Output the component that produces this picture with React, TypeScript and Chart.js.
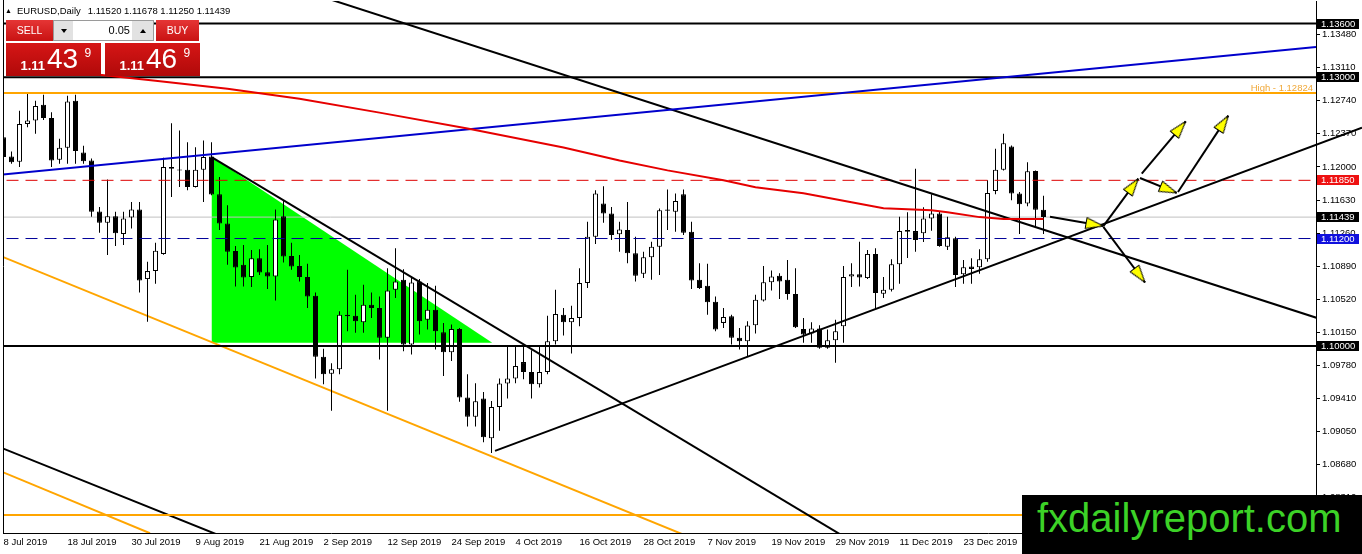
import React, { useEffect, useRef } from 'react';
import { Chart, registerables } from 'chart.js';

Chart.register(...registerables);

const FONT = '"Liberation Sans", Arial, Helvetica, sans-serif';

// ---------------- data ----------------
const opens = [
  1.12331, 1.12117, 1.12058, 1.12480, 1.12517, 1.12694, 1.12547, 1.12080, 1.12213, 1.12739,
  1.12161, 1.12072, 1.11502, 1.11376, 1.11450, 1.11250, 1.11436, 1.11524, 1.10747, 1.10836,
  1.11028, 1.11998, 1.11969, 1.11969, 1.11776, 1.11969, 1.12117, 1.11694, 1.11369, 1.11061,
  1.10906, 1.10769, 1.10980, 1.10824, 1.10776, 1.11450, 1.11006, 1.10894, 1.10769, 1.10561,
  1.09880, 1.09691, 1.09739, 1.10350, 1.10339, 1.10264, 1.10461, 1.10424, 1.10091, 1.10628,
  1.10739, 1.10017, 1.10720, 1.10294, 1.10406, 1.10153, 1.09931, 1.10191, 1.09424, 1.09209,
  1.09413, 1.08969, 1.09320, 1.09580, 1.09636, 1.09820, 1.09709, 1.09572, 1.09709, 1.10053,
  1.10350, 1.10264, 1.10313, 1.10702, 1.11220, 1.11591, 1.11480, 1.11247, 1.11294, 1.11036,
  1.10806, 1.10991, 1.11109, 1.11524, 1.11498, 1.11694, 1.11276, 1.10739, 1.10672, 1.10494,
  1.10258, 1.10331, 1.10091, 1.10053, 1.10231, 1.10509, 1.10713, 1.10783, 1.10739, 1.10580,
  1.10191, 1.10139, 1.10194, 1.09980, 1.10064, 1.10220, 1.10776, 1.10802, 1.10758, 1.11028,
  1.10583, 1.10628, 1.10913, 1.11294, 1.11283, 1.11258, 1.11424, 1.11480, 1.11109, 1.11202,
  1.10802, 1.10887, 1.10880, 1.10969, 1.11731, 1.11969, 1.12228, 1.11702, 1.11591, 1.11954,
  1.11520,
];
const highs = [
  1.12406, 1.12172, 1.12628, 1.12824, 1.12739, 1.12806, 1.12609, 1.12313, 1.12794, 1.12806,
  1.12236, 1.12094, 1.11553, 1.11858, 1.11498, 1.11498, 1.11609, 1.11609, 1.10942, 1.11153,
  1.12102, 1.12487, 1.12406, 1.12276, 1.12220, 1.12294, 1.12276, 1.11887, 1.11572, 1.11117,
  1.11128, 1.11072, 1.11080, 1.11128, 1.11524, 1.11628, 1.11153, 1.11017, 1.10917, 1.10598,
  1.09969, 1.09806, 1.10387, 1.10850, 1.10572, 1.10683, 1.10598, 1.10553, 1.10869, 1.11091,
  1.10858, 1.10776, 1.10747, 1.10702, 1.10672, 1.10258, 1.10239, 1.10202, 1.09683, 1.09583,
  1.09487, 1.09387, 1.09636, 1.09998, 1.09998, 1.10006, 1.09953, 1.10006, 1.10339, 1.10628,
  1.10424, 1.10450, 1.10869, 1.11387, 1.11739, 1.11783, 1.11553, 1.11387, 1.11609, 1.11220,
  1.11053, 1.11164, 1.11536, 1.11747, 1.11702, 1.11747, 1.11387, 1.10924, 1.10917, 1.10553,
  1.10424, 1.10350, 1.10202, 1.10276, 1.10572, 1.10894, 1.10842, 1.10813, 1.10961, 1.10869,
  1.10313, 1.10264, 1.10231, 1.10183, 1.10294, 1.10894, 1.10924, 1.11164, 1.11072, 1.11091,
  1.10769, 1.10969, 1.11442, 1.11494, 1.11980, 1.11550, 1.11694, 1.11498, 1.11442, 1.11220,
  1.10961, 1.10980, 1.11080, 1.11850, 1.12202, 1.12369, 1.12240, 1.11720, 1.12053, 1.11961,
  1.11678,
];
const lows = [
  1.12050, 1.12036, 1.11998, 1.12442, 1.12369, 1.12524, 1.11998, 1.12036, 1.12036, 1.12036,
  1.12036, 1.11442, 1.11264, 1.11017, 1.11117, 1.11128, 1.11313, 1.10598, 1.10272, 1.10694,
  1.11020, 1.11664, 1.11776, 1.11739, 1.11770, 1.11609, 1.11683, 1.11294, 1.10906, 1.10664,
  1.10664, 1.10658, 1.10794, 1.10636, 1.10509, 1.10931, 1.10850, 1.10720, 1.10424, 1.09636,
  1.09572, 1.09276, 1.09683, 1.10164, 1.10147, 1.10147, 1.10313, 1.09850, 1.09276, 1.10536,
  1.09942, 1.09906, 1.10128, 1.10183, 1.09961, 1.09664, 1.09831, 1.09376, 1.09102, 1.09102,
  1.08924, 1.08806, 1.09053, 1.09413, 1.09583, 1.09628, 1.09413, 1.09536, 1.09683, 1.10017,
  1.10117, 1.09917, 1.10220, 1.10647, 1.11139, 1.11376, 1.11183, 1.11053, 1.10924, 1.10720,
  1.10758, 1.10739, 1.10794, 1.11294, 1.11276, 1.11239, 1.10636, 1.10636, 1.10350, 1.10164,
  1.10202, 1.10017, 1.09961, 1.09887, 1.10139, 1.10498, 1.10620, 1.10524, 1.10517, 1.10202,
  1.10036, 1.10036, 1.09969, 1.09970, 1.09813, 1.10036, 1.10658, 1.10664, 1.10747, 1.10413,
  1.10536, 1.10609, 1.10694, 1.10983, 1.11053, 1.11161, 1.11287, 1.11109, 1.11072, 1.10658,
  1.10694, 1.10694, 1.10806, 1.10942, 1.11694, 1.11961, 1.11628, 1.11250, 1.11561, 1.11331,
  1.11250,
];
const closes = [
  1.12109, 1.12053, 1.12480, 1.12517, 1.12680, 1.12547, 1.12072, 1.12213, 1.12731, 1.12176,
  1.12064, 1.11498, 1.11376, 1.11450, 1.11258, 1.11424, 1.11524, 1.10731, 1.10836, 1.11064,
  1.11998, 1.11980, 1.11960, 1.11776, 1.11969, 1.12109, 1.11691, 1.11369, 1.11053, 1.10876,
  1.10764, 1.10980, 1.10820, 1.10776, 1.11413, 1.10998, 1.10887, 1.10769, 1.10553, 1.09880,
  1.09683, 1.09739, 1.10350, 1.10331, 1.10276, 1.10461, 1.10424, 1.10091, 1.10620, 1.10720,
  1.10017, 1.10709, 1.10276, 1.10406, 1.10164, 1.09931, 1.10191, 1.09424, 1.09209, 1.09383,
  1.08980, 1.09320, 1.09580, 1.09636, 1.09776, 1.09709, 1.09572, 1.09709, 1.10053, 1.10358,
  1.10264, 1.10313, 1.10702, 1.11220, 1.11702, 1.11480, 1.11239, 1.11302, 1.11036, 1.10783,
  1.10991, 1.11109, 1.11517, 1.11509, 1.11620, 1.11264, 1.10731, 1.10647, 1.10487, 1.10183,
  1.10324, 1.10091, 1.10053, 1.10228, 1.10517, 1.10713, 1.10776, 1.10720, 1.10580, 1.10209,
  1.10128, 1.10194, 1.09980, 1.10064, 1.10164, 1.10769, 1.10802, 1.10764, 1.11028, 1.10591,
  1.10628, 1.10913, 1.11283, 1.11276, 1.11183, 1.11424, 1.11480, 1.11117, 1.11213, 1.10794,
  1.10880, 1.10861, 1.10969, 1.11709, 1.11969, 1.12264, 1.11702, 1.11583, 1.11950, 1.11520,
  1.11439,
];

const dateLabels = [
  '8 Jul 2019', '18 Jul 2019', '30 Jul 2019', '9 Aug 2019', '21 Aug 2019', '2 Sep 2019',
  '12 Sep 2019', '24 Sep 2019', '4 Oct 2019', '16 Oct 2019', '28 Oct 2019', '7 Nov 2019',
  '19 Nov 2019', '29 Nov 2019', '11 Dec 2019', '23 Dec 2019',
];
const dateLabelBars = [0, 8, 16, 24, 32, 40, 48, 56, 64, 72, 80, 88, 96, 104, 112, 120];

const priceTicks = [
  1.1348, 1.1311, 1.1274, 1.1237, 1.12, 1.1163, 1.1126, 1.1089, 1.1052, 1.1015,
  1.0978, 1.0941, 1.0905, 1.0868, 1.0831,
];

const maBars = [6, 12, 19, 28, 37, 47, 58, 70, 77, 83, 90, 94, 100, 106, 110, 116, 118, 122, 125, 130];
const maValues = [
  1.13083, 1.13028, 1.12961, 1.12872, 1.12761, 1.12606, 1.12428, 1.12217, 1.12072, 1.11961,
  1.11850, 1.11772, 1.11706, 1.11606, 1.11539, 1.11517, 1.11494, 1.11439, 1.11417, 1.11417,
];

const level1360 = 1.136;
const level1300 = 1.13;
const highLevel = 1.12824;
const resistLevel = 1.1185;
const bidPrice = 1.11439;
const askPrice = 1.11469;
const supportLevel = 1.112;
const level1000 = 1.1;
const lowOrangeLevel = 1.08113;
const lotSize = '0.05';

const trendL1 = [[37.69, 1.13961], [168, 1.10203]];
const trendL2 = [[26.06, 1.12106], [106, 1.07821]];
const trendL3 = [[61.44, 1.08828], [169.81, 1.12439]];
const trendBlue = [[-1.69, 1.11902], [164.06, 1.13339]];
const channelBlack = [[-1.69, 1.08914], [27.06, 1.07882]];
const channelOrangeA = [[-1.69, 1.0865], [18.31, 1.07909]];
const channelOrangeB = [[-1.69, 1.11053], [85.81, 1.07864]];
const greenWedge = [[26, 1.12117], [61.09, 1.10036]];
const wedgeBase = 1.10036;

const arrowPaths = [
  [[130.81, 1.11442], [137.48, 1.11339]],
  [[137.48, 1.11339], [141.85, 1.11869]],
  [[142.06, 1.11876], [146.65, 1.11709]],
  [[146.81, 1.1172], [153.1, 1.12572]],
  [[142.28, 1.11924], [147.78, 1.12509]],
  [[137.48, 1.11331], [142.69, 1.10709]],
];

// scale ranges (bar index / price)
const X_MIN = -0.0625;
const X_MAX = 164.0625;
const Y_MAX = 1.138524;
const Y_MIN = 1.079116;

const overlayPlugin = {
  id: 'mtOverlay',
  afterDraw(chart: any) {
    const { ctx, chartArea: a, scales } = chart;
    const y = scales.y;
    ctx.save();
    ctx.strokeStyle = '#000';
    ctx.lineWidth = 1;
    ctx.beginPath();
    ctx.moveTo(a.left + 0.5, 0);
    ctx.lineTo(a.left + 0.5, a.bottom);
    ctx.stroke();

    ctx.font = `9.5px ${FONT}`;
    ctx.textAlign = 'right';
    ctx.textBaseline = 'alphabetic';
    ctx.fillStyle = '#f0a838';
    ctx.fillText('High - ' + highLevel.toFixed(5), a.right - 3, y.getPixelForValue(highLevel) - 2);

    const tags: [number, string][] = [
      [level1360, '#000000'],
      [level1300, '#000000'],
      [resistLevel, '#ee1111'],
      [bidPrice, '#000000'],
      [supportLevel, '#1010dd'],
      [level1000, '#000000'],
    ];
    ctx.textAlign = 'left';
    ctx.textBaseline = 'middle';
    tags.forEach(([v, color]) => {
      const py = y.getPixelForValue(v);
      ctx.fillStyle = color;
      ctx.fillRect(a.right + 1, Math.round(py) - 5, 42, 10);
      ctx.fillStyle = '#fff';
      ctx.fillText(v.toFixed(5), a.right + 5, Math.round(py) + 0.5);
    });
    ctx.restore();
  },
};

export default function App() {
  const ref = useRef<HTMLCanvasElement>(null);

  useEffect(() => {
    document.body.style.margin = '0';
    const canvas = ref.current;
    if (!canvas) return;

    const head = document.createElement('canvas');
    head.width = 12;
    head.height = 36;
    const g = head.getContext('2d');
    if (g) {
      g.beginPath();
      g.moveTo(6, 18);
      g.lineTo(11.5, 35.5);
      g.lineTo(0.5, 35.5);
      g.closePath();
      g.fillStyle = '#ffff00';
      g.fill();
      g.lineWidth = 1;
      g.strokeStyle = '#000';
      g.stroke();
    }

    const seg = (pts: number[][], color: string, width: number, order: number, extra: any = {}) => ({
      type: 'line',
      data: pts.map(([x, y]) => ({ x, y })),
      borderColor: color,
      borderWidth: width,
      pointRadius: 0,
      pointHoverRadius: 0,
      pointBorderWidth: 0,
      pointHitRadius: 0,
      fill: false,
      tension: 0,
      order,
      ...extra,
    });
    const hline = (v: number, color: string, width: number, order: number, dash?: number[]) =>
      seg([[-2, v], [170, v]], color, width, order, dash ? { borderDash: dash } : {});

    const arrowRotation = (c: any) => {
      const xs = c.chart.scales.x;
      const ys = c.chart.scales.y;
      const d = c.dataset && c.dataset.data;
      if (!xs || !ys || !d || d.length < 2) return 0;
      const dx = xs.getPixelForValue(d[1].x) - xs.getPixelForValue(d[0].x);
      const dy = ys.getPixelForValue(d[1].y) - ys.getPixelForValue(d[0].y);
      return (Math.atan2(dx, -dy) * 180) / Math.PI;
    };

    const datasets: any[] = [
      seg(greenWedge, 'rgba(0,0,0,0)', 0, 100, { fill: { value: wedgeBase }, backgroundColor: '#00ff00' }),
      hline(bidPrice, '#c0c0c0', 1, 95),
      seg(channelOrangeB, '#ffa500', 2, 85),
      seg(channelOrangeA, '#ffa500', 2, 85),
      seg(channelBlack, '#000', 2, 85),
      {
        type: 'bar',
        data: lows.map((l, i) => ({ x: i, y: [l, highs[i]] })),
        backgroundColor: '#000',
        borderWidth: 0,
        barThickness: 1,
        grouped: false,
        inflateAmount: 0,
        minBarLength: 1,
        order: 60,
      },
      {
        type: 'bar',
        data: opens.map((o, i) => ({ x: i, y: [o, closes[i]] })),
        backgroundColor: opens.map((o, i) => (closes[i] >= o ? '#ffffff' : '#000000')),
        borderColor: '#000',
        borderWidth: 1,
        borderSkipped: false,
        barThickness: 5,
        grouped: false,
        inflateAmount: 0,
        minBarLength: 1,
        order: 50,
      },
      hline(level1360, '#000', 2, 45),
      hline(level1300, '#000', 2, 45),
      hline(highLevel, '#ffa500', 2, 45),
      hline(resistLevel, '#dd0000', 1, 45, [12, 7]),
      hline(supportLevel, '#000099', 1, 45, [12, 7]),
      hline(level1000, '#000', 2, 45),
      hline(lowOrangeLevel, '#ffa500', 2, 45),
      seg(trendBlue, '#0000cc', 2, 40),
      seg(trendL1, '#000', 2, 40),
      seg(trendL2, '#000', 2, 40),
      seg(trendL3, '#000', 2, 40, { clip: { left: 0, top: 0, right: 50, bottom: 0 } }),
      seg(maBars.map((b, i) => [b, maValues[i]]), '#e60000', 2, 30),
      ...arrowPaths.map((p) =>
        seg(p, '#000', 2, 10, {
          pointRadius: (c: any) => (c.dataIndex === 1 ? 1 : 0),
          pointStyle: (c: any) => (c.dataIndex === 1 ? head : 'circle'),
          pointRotation: arrowRotation,
        })
      ),
    ];

    const chart = new Chart(canvas, {
      type: 'line',
      data: { datasets },
      options: {
        responsive: false,
        animation: false,
        events: [],
        layout: { padding: { left: 3, top: 1, right: 0, bottom: 0 } },
        plugins: { legend: { display: false }, tooltip: { enabled: false } },
        scales: {
          x: {
            type: 'linear',
            min: X_MIN,
            max: X_MAX,
            offset: false,
            grid: { display: false, drawTicks: false, offset: false },
            border: { display: true, color: '#000', width: 1 },
            afterBuildTicks: (s: any) => {
              s.ticks = dateLabelBars.map((v) => ({ value: v }));
            },
            afterFit: (s: any) => {
              s.height = 21;
              s.paddingLeft = 0;
              s.paddingRight = 0;
            },
            ticks: {
              autoSkip: false,
              maxRotation: 0,
              minRotation: 0,
              align: 'start',
              padding: 4,
              color: '#000',
              font: { family: FONT, size: 9.5 },
              callback: (v: any) => {
                const k = dateLabelBars.indexOf(Number(v));
                return k >= 0 ? dateLabels[k] : '';
              },
            },
          },
          y: {
            type: 'linear',
            position: 'right',
            min: Y_MIN,
            max: Y_MAX,
            beginAtZero: false,
            grid: { display: true, drawOnChartArea: false, drawTicks: true, tickLength: 4, color: '#000' },
            border: { display: true, color: '#000', width: 1 },
            afterBuildTicks: (s: any) => {
              s.ticks = priceTicks.map((v) => ({ value: v }));
            },
            afterFit: (s: any) => {
              s.width = 46;
              s.paddingTop = 0;
              s.paddingBottom = 0;
            },
            ticks: {
              autoSkip: false,
              padding: 2,
              color: '#000',
              font: { family: FONT, size: 9.5 },
              callback: (v: any) => Number(v).toFixed(5),
            },
          },
        },
      } as any,
      plugins: [overlayPlugin],
    } as any);

    return () => chart.destroy();
  }, []);

  const last = opens.length - 1;
  const headerNums = [opens[last], highs[last], lows[last], closes[last]].map((v) => v.toFixed(5)).join(' ');

  const btn = (left: number, width: number, text: string) => (
    <div
      style={{
        position: 'absolute', left, top: 20, width, height: 21,
        background: 'linear-gradient(180deg, #e53535 0%, #c91212 100%)',
        color: '#fff', fontSize: 10.5, lineHeight: '21px', textAlign: 'center',
      }}
    >
      {text}
    </div>
  );

  const priceBox = (left: number, price: number) => {
    const s = price.toFixed(5);
    return (
      <div
        style={{
          position: 'absolute', left, top: 43, width: 95, height: 33,
          background: 'linear-gradient(180deg, #d61616 0%, #b00909 100%)', color: '#fff',
        }}
      >
        <span style={{ position: 'absolute', left: 14.5, top: 16, fontSize: 13, fontWeight: 700, lineHeight: '13px' }}>
          {s.slice(0, 4)}
        </span>
        <span style={{ position: 'absolute', left: 41, top: 2, fontSize: 28, lineHeight: '28px' }}>{s.slice(4, 6)}</span>
        <span style={{ position: 'absolute', left: 78.5, top: 4, fontSize: 12, lineHeight: '12px' }}>{s.slice(6)}</span>
      </div>
    );
  };

  const tri = (dir: 'up' | 'down') => (
    <div
      style={{
        width: 0, height: 0, borderLeft: '3.5px solid transparent', borderRight: '3.5px solid transparent',
        ...(dir === 'down' ? { borderTop: '4px solid #000' } : { borderBottom: '4px solid #000' }),
      }}
    />
  );

  return (
    <div
      style={{
        position: 'absolute', left: 0, top: 0, width: 1362, height: 554, overflow: 'hidden',
        background: '#fff', fontFamily: FONT,
      }}
    >
      <canvas ref={ref} width={1362} height={554} style={{ position: 'absolute', left: 0, top: 0 }} />

      <div style={{ position: 'absolute', left: 5, top: 4.5, fontSize: 9.5, lineHeight: '12px', color: '#000', whiteSpace: 'pre' }}>
        <span style={{ fontSize: 7, position: 'relative', top: -1, marginRight: 5 }}>▲</span>
        <span>EURUSD,Daily</span>
        <span style={{ marginLeft: 7 }}>{headerNums}</span>
      </div>

      {btn(6, 47, 'SELL')}
      <div style={{ position: 'absolute', left: 53, top: 20, width: 101, height: 21, background: '#fff', boxSizing: 'border-box', border: '1px solid #9a9a9a' }}>
        <div style={{ position: 'absolute', left: 0, top: 0, width: 19, height: 19, background: '#e2e2e2', display: 'flex', alignItems: 'center', justifyContent: 'center' }}>
          {tri('down')}
        </div>
        <div style={{ position: 'absolute', left: 19, top: 0, width: 57, height: 19, fontSize: 11, lineHeight: '19px', textAlign: 'right', color: '#000' }}>
          {lotSize}
        </div>
        <div style={{ position: 'absolute', right: 0, top: 0, width: 21, height: 19, background: '#e2e2e2', display: 'flex', alignItems: 'center', justifyContent: 'center' }}>
          {tri('up')}
        </div>
      </div>
      {btn(156, 43, 'BUY')}
      {priceBox(6, bidPrice)}
      {priceBox(105, askPrice)}

      <div style={{ position: 'absolute', left: 1022, top: 495, width: 340, height: 59, background: '#000' }}>
        <div style={{ position: 'absolute', left: 15, top: 3, fontSize: 40, lineHeight: '40px', color: '#3cd227', whiteSpace: 'nowrap' }}>
          fxdailyreport.com
        </div>
      </div>
    </div>
  );
}
